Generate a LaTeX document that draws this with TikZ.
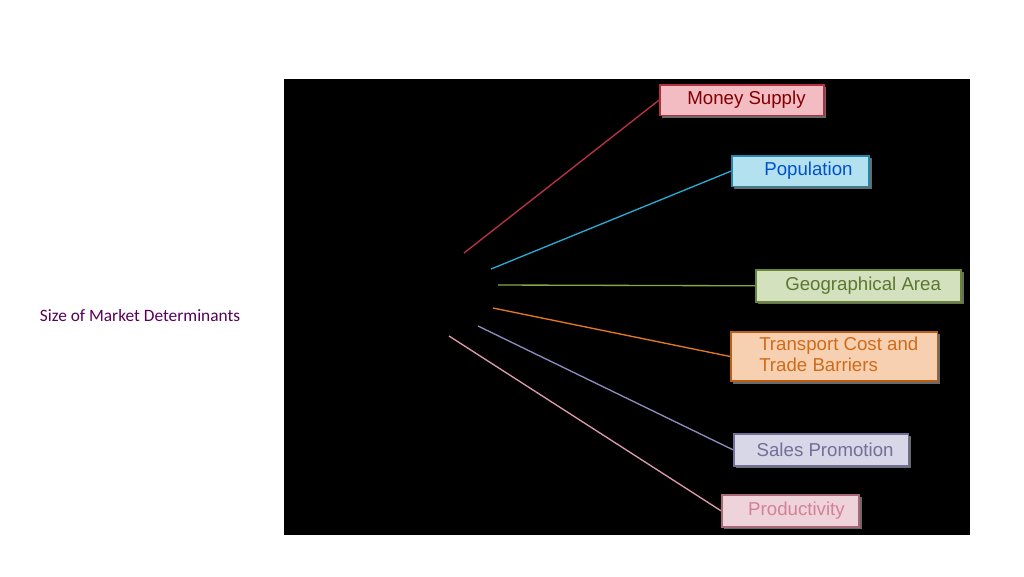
\documentclass[tikz,border=0pt]{standalone}
\usepackage{fontspec}
\setmainfont{Liberation Sans}
\newfontfamily\carlitofont{Carlito}
\usetikzlibrary{shadows}
\begin{document}
\begin{tikzpicture}[x=0.75pt,y=-0.75pt,
  det/.style={draw=#1!80!black, line width=1.2pt, fill=#1!35, text=#1!70!black, font=\fontsize{14}{16}\selectfont, align=left, anchor=north west, inner sep=0pt, drop shadow={shadow xshift=2pt,shadow yshift=-2pt,fill=gray!60,opacity=0.6}},
  lk/.style={line width=1pt}]
\useasboundingbox (0,0) rectangle (1024,576);
\fill[white] (0,0) rectangle (1024,576);
\fill[black] (284,79) rectangle (970,535);
\node[text=violet!70!black, font=\carlitofont\fontsize{13}{15}\selectfont] (title) at (140,316) {Size of Market Determinants};
\definecolor{cred}{RGB}{220,60,80}
\definecolor{ccyan}{RGB}{40,170,210}
\definecolor{cgreen}{RGB}{130,170,70}
\definecolor{corange}{RGB}{230,120,30}
\definecolor{cgray}{RGB}{140,140,190}
\definecolor{cpink}{RGB}{210,130,150}
\node[det=cred, minimum width=123pt, minimum height=23pt, text=red!50!black] (ms) at (659,84) {\hspace{7pt}Money Supply};
\node[det=ccyan, minimum width=103pt, minimum height=23pt, text=blue!60!cyan!80!black] (pop) at (731,155) {\hspace{12pt}Population};
\node[det=cgreen, minimum width=154pt, minimum height=24pt] (geo) at (755,269) {\hspace{7pt}Geographical Area};
\node[det=corange, minimum width=155pt, minimum height=37pt, text=corange!90!black] (tr) at (730,331) {\hspace{7pt}\begin{tabular}{@{}l@{}}Transport Cost and\\Trade Barriers\end{tabular}};
\node[det=cgray, minimum width=131pt, minimum height=24pt, text=cgray!80!black] (sp) at (733,433) {\hspace{6pt}Sales Promotion};
\node[det=cpink, minimum width=103pt, minimum height=24pt, text=cpink] (pr) at (721,494) {\hspace{9pt}Productivity};
\coordinate (a1) at (464,253);
\coordinate (a2) at (491,269);
\coordinate (a3) at (498,285);
\coordinate (a4) at (493,308);
\coordinate (a5) at (478,326);
\coordinate (a6) at (449,336);
\draw[lk, cred!85!black] (a1) -- (ms.west);
\draw[lk, ccyan] (a2) -- (pop.west);
\draw[lk, cgreen] (a3) -- (geo.west);
\draw[lk, corange] (a4) -- (tr.west);
\draw[lk, cgray] (a5) -- (sp.west);
\draw[lk, cpink!80!white] (a6) -- (pr.west);
\end{tikzpicture}
\end{document}
